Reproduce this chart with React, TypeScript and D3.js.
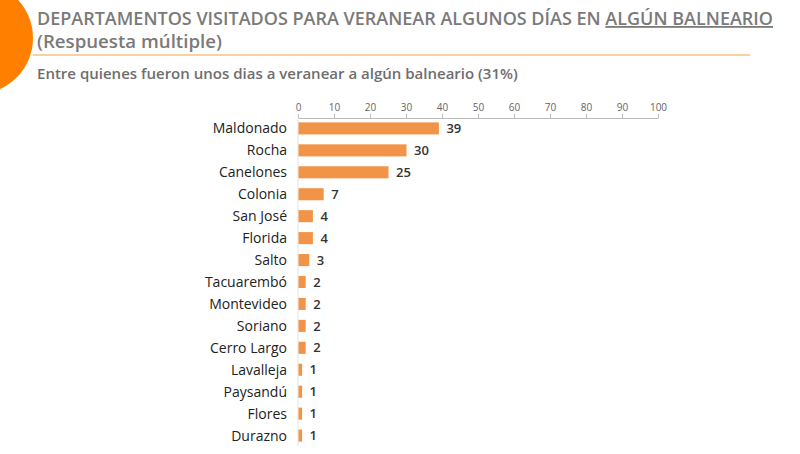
import { useEffect, useRef } from 'react'
import * as d3 from 'd3'

const departments = ['Maldonado', 'Rocha', 'Canelones', 'Colonia', 'San José', 'Florida', 'Salto', 'Tacuarembó', 'Montevideo', 'Soriano', 'Cerro Largo', 'Lavalleja', 'Paysandú', 'Flores', 'Durazno']
const percents = [39, 30, 25, 7, 4, 4, 3, 2, 2, 2, 2, 1, 1, 1, 1]
const tickValues = [0, 10, 20, 30, 40, 50, 60, 70, 80, 90, 100]

export default function App() {
  const ref = useRef<SVGSVGElement>(null)

  useEffect(() => {
    const width = 800
    const height = 454
    const font = '"Open Sans", sans-serif'

    const svg = d3.select(ref.current)
    svg.selectAll('*').remove()
    svg.attr('width', width).attr('height', height).style('background', '#fff')

    // fit a text element to a target width by adjusting its font size
    const fit = (sel: any, size: number, target: number) => {
      const w = sel.node().getComputedTextLength()
      sel.attr('font-size', size * target / w)
    }

    // orange circle on the left edge
    svg.append('circle')
      .attr('cx', -23).attr('cy', 38).attr('r', 56)
      .attr('fill', '#ff8000')

    // title
    const title = svg.append('text')
      .attr('x', 37).attr('y', 25)
      .attr('font-family', font).attr('font-size', 19).attr('font-weight', 600)
      .attr('fill', '#7a7a7a')
    title.append('tspan').text('DEPARTAMENTOS VISITADOS PARA VERANEAR ALGUNOS DÍAS EN ')
    title.append('tspan').attr('text-decoration', 'underline').text('ALGÚN BALNEARIO')
    fit(title, 19, 736)

    const sub = svg.append('text')
      .attr('x', 37).attr('y', 48)
      .attr('font-family', font).attr('font-size', 19).attr('font-weight', 600)
      .attr('fill', '#7a7a7a')
      .text('(Respuesta múltiple)')
    fit(sub, 19, 185)

    svg.append('line')
      .attr('x1', 33).attr('x2', 750).attr('y1', 55).attr('y2', 55)
      .attr('stroke', '#f3c57c').attr('stroke-width', 1.5)

    const note = svg.append('text')
      .attr('x', 37).attr('y', 79)
      .attr('font-family', font).attr('font-size', 14).attr('font-weight', 600)
      .attr('fill', '#6e6e6e')
      .text('Entre quienes fueron unos dias a veranear a algún balneario (31%)')
    fit(note, 14, 481)

    const x = d3.scaleLinear().domain([0, 100]).range([298, 658])
    const y = d3.scaleBand().domain(departments).range([118, 446]).paddingInner(0.45).paddingOuter(0.2)

    // top axis
    const axis = svg.append('g')
      .attr('transform', 'translate(0,118)')
      .call(d3.axisTop(x).tickValues(tickValues).tickSize(4).tickSizeOuter(0))
    axis.select('.domain').attr('stroke', '#bbb')
    axis.selectAll('.tick line').attr('stroke', '#bbb')
    axis.selectAll('.tick text')
      .attr('font-family', font).attr('font-size', 10).attr('fill', '#666')

    // vertical base line
    svg.append('line')
      .attr('x1', x(0)).attr('x2', x(0)).attr('y1', 118).attr('y2', 446)
      .attr('stroke', '#e3e3e3')

    const rows = departments.map((d, i) => ({ d, v: percents[i] }))

    svg.append('g').selectAll('rect').data(rows).join('rect')
      .attr('x', x(0) + 0.5)
      .attr('y', r => y(r.d)!)
      .attr('width', r => x(r.v) - x(0))
      .attr('height', y.bandwidth())
      .attr('fill', '#f29447')

    svg.append('g').selectAll('text').data(rows).join('text')
      .attr('x', r => x(r.v) + 8)
      .attr('y', r => y(r.d)! + y.bandwidth() / 2)
      .attr('dy', '0.36em')
      .attr('font-family', font).attr('font-size', 13).attr('font-weight', 600)
      .attr('fill', '#333')
      .text(r => r.v)

    svg.append('g').selectAll('text').data(rows).join('text')
      .attr('x', 287)
      .attr('y', r => y(r.d)! + y.bandwidth() / 2)
      .attr('dy', '0.36em')
      .attr('text-anchor', 'end')
      .attr('font-family', font).attr('font-size', 14)
      .attr('fill', '#222')
      .text(r => r.d)
  }, [])

  return (
    <svg ref={ref} style={{ position: 'absolute', left: 0, top: 0 }}></svg>
  )
}
